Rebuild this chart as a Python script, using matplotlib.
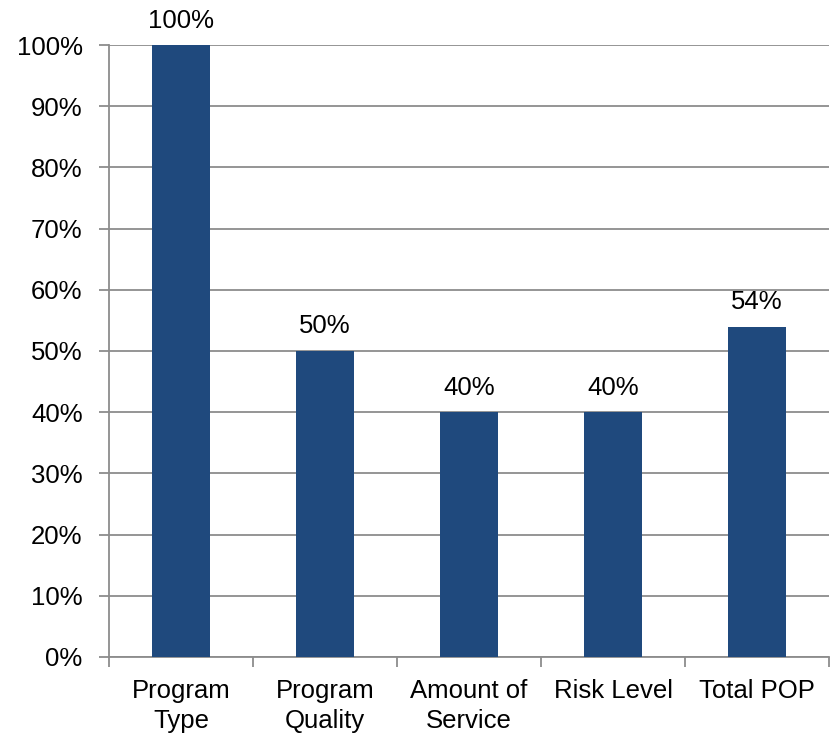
import matplotlib.pyplot as plt
import numpy as np

categories = ["Program\nType", "Program\nQuality", "Amount of\nService", "Risk Level", "Total POP"]
values = [100, 50, 40, 40, 54]
y_ticks = list(range(0, 101, 10))

bar_color = "#1F497D"
grid_color = "#8C8C8C"

plt.rcParams["font.family"] = ["Liberation Sans", "DejaVu Sans"]
plt.rcParams["font.size"] = 18.5

fig = plt.figure(figsize=(8.33, 7.33), dpi=100)
ax = fig.add_axes([0.1309, 0.1037, 0.8643, 0.8349])

x = np.arange(len(categories))
bars = ax.bar(x, values, width=0.4, color=bar_color, zorder=3)

for rect, v in zip(bars, values):
    ax.annotate(f"{v}%", (rect.get_x() + rect.get_width() / 2, v),
                xytext=(0, 9), textcoords="offset points",
                ha="center", va="bottom", color="black")

ax.set_xlim(-0.5, len(categories) - 0.5)
ax.set_ylim(0, 100)
ax.set_yticks(y_ticks)
ax.set_yticklabels([f"{t}%" for t in y_ticks])
ax.yaxis.grid(True, color=grid_color, lw=1.3, zorder=0)

# category labels at centres, tick marks on the boundaries
ax.set_xticks(x)
ax.set_xticklabels(categories, linespacing=1.3)
ax.set_xticks(np.arange(-0.5, len(categories)), minor=True)
ax.tick_params(axis="x", which="major", length=0, pad=16)
ax.tick_params(axis="x", which="minor", length=7, color=grid_color, width=1.3)
ax.tick_params(axis="y", length=7, color=grid_color, width=1.3, pad=12)

for side in ("top", "right"):
    ax.spines[side].set_visible(False)
for side in ("left", "bottom"):
    ax.spines[side].set_color(grid_color)
    ax.spines[side].set_linewidth(1.3)

fig.savefig("out.png", dpi=100)
